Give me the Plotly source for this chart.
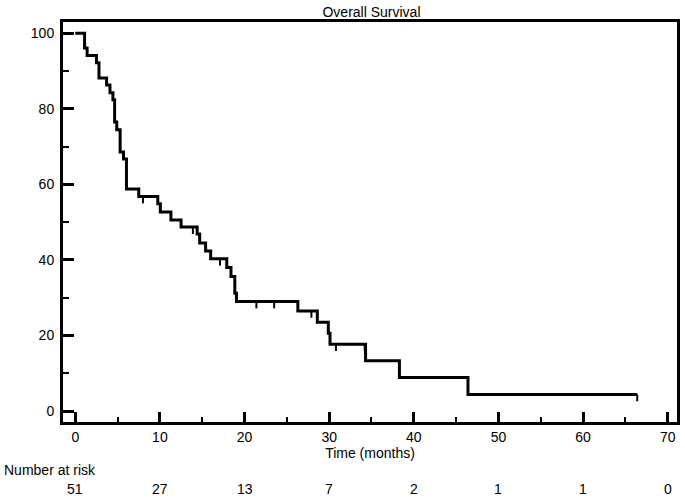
import plotly.graph_objects as go

# Kaplan-Meier step data (time in months, survival %)
event_times = [0, 1.1, 1.4, 2.5, 2.8, 3.7, 4.1, 4.45, 4.65, 4.9, 5.3, 5.7, 6.05, 7.5,
               9.75, 10.05, 11.3, 12.5, 14.4, 14.7, 15.4, 16.0, 17.9, 18.4, 18.85,
               19.05, 26.3, 28.6, 29.9, 30.1, 34.3, 38.3, 46.4, 66.4]
survival = [100, 96.1, 94.1, 92.2, 88.2, 86.3, 84.3, 82.4, 76.5, 74.5, 68.6, 66.7,
            58.8, 56.8, 54.9, 52.7, 50.6, 48.7, 46.9, 44.5, 42.4, 40.3, 38.0, 35.6,
            31.2, 29.0, 26.5, 23.5, 20.6, 17.7, 13.3, 8.9, 4.4, 4.4]

censor_times = [8.0, 13.9, 17.1, 21.4, 23.5, 27.9, 30.8, 34.2, 66.4]

risk_times = [0, 10, 20, 30, 40, 50, 60, 70]
risk_counts = [51, 27, 13, 7, 2, 1, 1, 0]

title_text = "Overall Survival"
x_title = "Time (months)"
risk_label = "Number at risk"

FONT = "Liberation Sans, Arial, sans-serif"
TICK_LEN = 1.8


def surv_at(t):
    s = survival[0]
    for et, sv in zip(event_times, survival):
        if et <= t:
            s = sv
    return s


cx, cy = [], []
for t in censor_times:
    s = surv_at(t)
    cx += [t, t, None]
    cy += [s, s - TICK_LEN, None]

fig = go.Figure()
fig.add_trace(go.Scatter(x=event_times, y=survival, mode="lines",
                         line=dict(color="black", width=3, shape="hv"),
                         hoverinfo="skip", showlegend=False))
fig.add_trace(go.Scatter(x=cx, y=cy, mode="lines",
                         line=dict(color="black", width=2),
                         hoverinfo="skip", showlegend=False))

for t, n in zip(risk_times, risk_counts):
    fig.add_annotation(x=t, y=(422 - 489) / 400, xref="x", yref="paper", text=str(n),
                       showarrow=False, xanchor="center", yanchor="middle",
                       font=dict(family=FONT, size=14, color="black"))
fig.add_annotation(x=(2 - 63) / 617, y=(422 - 470) / 400, xref="paper", yref="paper",
                   text=risk_label, showarrow=False, xanchor="left", yanchor="middle",
                   font=dict(family=FONT, size=14, color="black"))

fig.update_layout(
    width=685, height=500,
    margin=dict(l=63, r=5, t=22, b=78),
    paper_bgcolor="white", plot_bgcolor="white",
    font=dict(family=FONT, size=14, color="black"),
    title=dict(text=title_text, x=(63 + 680) / 2 / 685, xanchor="center",
               y=1 - 12 / 500, yanchor="middle", yref="container",
               font=dict(family=FONT, size=14, color="black")),
    xaxis=dict(range=[-1.45, 71.1], tickvals=risk_times, showgrid=False,
               zeroline=False, showline=True, linecolor="black", linewidth=3,
               mirror=True, ticks="inside", ticklen=10, tickwidth=3,
               tickcolor="black",
               minor=dict(dtick=5, tick0=0, ticks="inside", ticklen=5,
                          tickwidth=2, tickcolor="black", showgrid=False),
               title=dict(text=x_title, standoff=4,
                          font=dict(family=FONT, size=14, color="black"))),
    yaxis=dict(range=[-2.9, 103], tickvals=[0, 20, 40, 60, 80, 100],
               showgrid=False, zeroline=False, showline=True,
               linecolor="black", linewidth=3, mirror=True, ticks="inside",
               ticklen=11, tickwidth=3, tickcolor="black", ticklabelstandoff=3,
               minor=dict(dtick=10, tick0=0, ticks="inside", ticklen=6,
                          tickwidth=2, tickcolor="black", showgrid=False)),
)

fig.write_html("out.html", config={"displayModeBar": False},
               post_script="document.body.style.margin='0px';document.body.style.overflow='hidden';")
